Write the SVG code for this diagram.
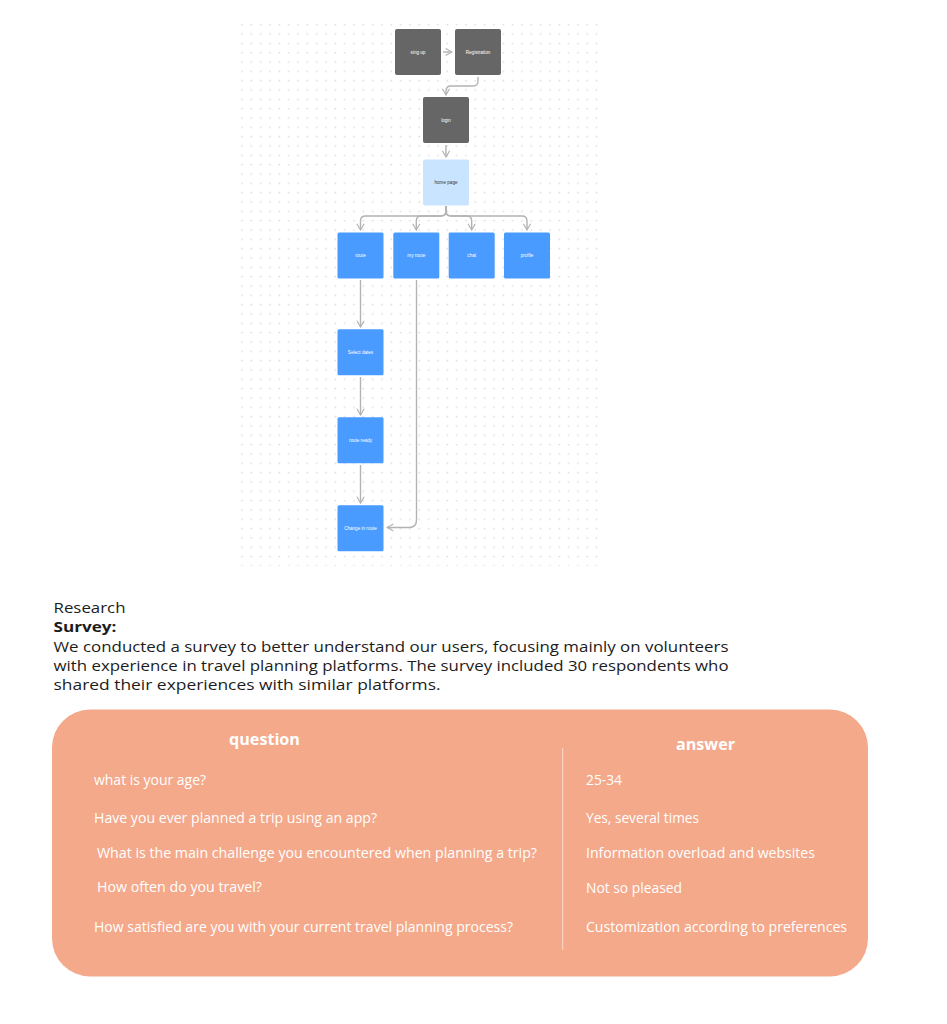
<svg xmlns="http://www.w3.org/2000/svg" width="947" height="1024" viewBox="0 0 947 1024">
<defs>
<pattern id="dots" x="238" y="20.4" width="9.33" height="9.33" patternUnits="userSpaceOnUse">
<rect x="3.3" y="3.6" width="1.5" height="1.5" fill="#dcdcdc"/>
</pattern>
<marker id="arr" viewBox="0 0 10 10" refX="9" refY="5" markerWidth="9" markerHeight="9" markerUnits="userSpaceOnUse" orient="auto">
<path d="M2,1 L9,5 L2,9" fill="none" stroke="#b3b3b3" stroke-width="1.3"/>
</marker>
</defs>
<style>
.dark{fill:#666666}
.lblue{fill:#c9e4ff}
.blue{fill:#4a9bff}
.nl{font-family:"Liberation Sans",Arial,sans-serif;font-size:4.6px;fill:#ffffff;text-anchor:middle}
.nd{font-family:"Liberation Sans",Arial,sans-serif;font-size:4.6px;fill:#333333;text-anchor:middle}
.conn{fill:none;stroke:#b3b3b3;stroke-width:1.4;marker-end:url(#arr)}
.para{font-family:"Open Sans","Liberation Sans",sans-serif;font-size:15px;fill:#1c1c1c}
.hd{font-family:"Open Sans","Liberation Sans",sans-serif;font-size:15.5px;font-weight:700;fill:#ffffff;text-anchor:middle}
.tt{font-family:"Open Sans","Liberation Sans",sans-serif;font-size:14px;fill:#ffffff}
</style>
<rect width="947" height="1024" fill="#ffffff"/>
<rect x="238" y="20" width="361" height="546" fill="url(#dots)"/>

<g id="connectors">
<path class="conn" d="M443,52 L452,52"/>
<path class="conn" d="M478,77 L478,81 Q478,86 473,86 L451,86 Q446,86 446,91 L446,95"/>
<path class="conn" d="M446,145 L446,157"/>
<path class="conn" d="M446,206 L446,211 Q446,216 441,216 L365.5,216 Q360.5,216 360.5,221 L360.5,230"/>
<path class="conn" d="M446,206 L446,211 Q446,216 441,216 L421.3,216 Q416.3,216 416.3,221 L416.3,230"/>
<path class="conn" d="M446,206 L446,211 Q446,216 451,216 L466.7,216 Q471.7,216 471.7,221 L471.7,230"/>
<path class="conn" d="M446,206 L446,211 Q446,216 451,216 L522,216 Q527,216 527,221 L527,230"/>
<path class="conn" d="M360.5,280 L360.5,327"/>
<path class="conn" d="M360.5,377 L360.5,415"/>
<path class="conn" d="M360.5,465 L360.5,503"/>
<path class="conn" d="M416.5,280 L416.5,520 Q416.5,527.5 409,527.5 L387,527.5"/>
</g>

<g id="node-signup"><rect class="dark" x="395" y="29" width="46" height="46" rx="2"/><text class="nl" x="418" y="53.5">sing up</text></g>
<g id="node-registration"><rect class="dark" x="455" y="29" width="46" height="46" rx="2"/><text class="nl" x="478" y="53.5">Registration</text></g>
<g id="node-login"><rect class="dark" x="423" y="97" width="46" height="46" rx="2"/><text class="nl" x="446" y="121.5">login</text></g>
<g id="node-home"><rect class="lblue" x="423" y="159.5" width="46" height="46" rx="2"/><text class="nd" x="446" y="184">home page</text></g>
<g id="node-route"><rect class="blue" x="337.5" y="232.5" width="46" height="46" rx="1.5"/><text class="nl" x="360.5" y="257">route</text></g>
<g id="node-myroute"><rect class="blue" x="393.3" y="232.5" width="46" height="46" rx="1.5"/><text class="nl" x="416.3" y="257">my route</text></g>
<g id="node-chat"><rect class="blue" x="448.7" y="232.5" width="46" height="46" rx="1.5"/><text class="nl" x="471.7" y="257">chat</text></g>
<g id="node-profile"><rect class="blue" x="504" y="232.5" width="46" height="46" rx="1.5"/><text class="nl" x="527" y="257">profile</text></g>
<g id="node-select"><rect class="blue" x="337.5" y="329.3" width="46" height="46" rx="1.5"/><text class="nl" x="360.5" y="353.8">Select dates</text></g>
<g id="node-ready"><rect class="blue" x="337.5" y="417.3" width="46" height="46" rx="1.5"/><text class="nl" x="360.5" y="441.8">route ready</text></g>
<g id="node-change"><rect class="blue" x="337.5" y="505.3" width="46" height="46" rx="1.5"/><text class="nl" x="360.5" y="529.8">Change in route</text></g>

<g id="research-text">
<text class="para" x="53.5" y="613" textLength="72" lengthAdjust="spacingAndGlyphs">Research</text>
<text class="para" x="53.5" y="631.5" font-weight="700" textLength="63" lengthAdjust="spacingAndGlyphs">Survey:</text>
<text class="para" x="53.5" y="651.5" textLength="675" lengthAdjust="spacingAndGlyphs">We conducted a survey to better understand our users, focusing mainly on volunteers</text>
<text class="para" x="53.5" y="670.5" textLength="675" lengthAdjust="spacingAndGlyphs">with experience in travel planning platforms. The survey included 30 respondents who</text>
<text class="para" x="53.5" y="689.5" textLength="387" lengthAdjust="spacingAndGlyphs">shared their experiences with similar platforms.</text>
</g>

<g id="survey-table">
<rect x="52" y="709.5" width="816" height="267" rx="38" fill="#f4a98b"/>
<line x1="562.7" y1="748" x2="562.7" y2="950" stroke="#fbdccf" stroke-width="1"/>
<text class="hd" x="264.5" y="745" textLength="71" lengthAdjust="spacingAndGlyphs">question</text>
<text class="hd" x="705.5" y="750" textLength="59" lengthAdjust="spacingAndGlyphs">answer</text>
<text class="tt" x="94" y="785" textLength="112" lengthAdjust="spacingAndGlyphs">what is your age?</text>
<text class="tt" x="94" y="823" textLength="283" lengthAdjust="spacingAndGlyphs">Have you ever planned a trip using an app?</text>
<text class="tt" x="97" y="857.5" textLength="440" lengthAdjust="spacingAndGlyphs">What is the main challenge you encountered when planning a trip?</text>
<text class="tt" x="97" y="892" textLength="165" lengthAdjust="spacingAndGlyphs">How often do you travel?</text>
<text class="tt" x="94" y="931.5" textLength="419" lengthAdjust="spacingAndGlyphs">How satisfied are you with your current travel planning process?</text>
<text class="tt" x="586" y="785" textLength="36" lengthAdjust="spacingAndGlyphs">25-34</text>
<text class="tt" x="586" y="823" textLength="113" lengthAdjust="spacingAndGlyphs">Yes, several times</text>
<text class="tt" x="586" y="858" textLength="229" lengthAdjust="spacingAndGlyphs">Information overload and websites</text>
<text class="tt" x="586" y="893" textLength="96" lengthAdjust="spacingAndGlyphs">Not so pleased</text>
<text class="tt" x="586" y="932" textLength="261" lengthAdjust="spacingAndGlyphs">Customization according to preferences</text>
</g>
</svg>
